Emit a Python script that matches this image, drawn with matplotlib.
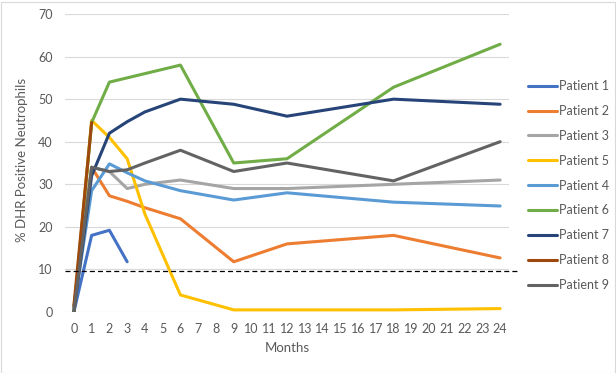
import numpy as np
import matplotlib
matplotlib.use("Agg")
import matplotlib.pyplot as plt
from matplotlib.patches import Rectangle
import matplotlib.transforms as mtransforms

plt.rcParams['font.family'] = ['Lato', 'DejaVu Sans']

categories = list(range(0, 25))
months = [0, 1, 2, 3, 4, 6, 9, 12, 18, 24]

patient_1 = [0, 18, 19.2, 11.8, None, None, None, None, None, None]
patient_2 = [1, 34, 27.3, 26, 24.5, 21.9, 11.8, 16, 18, 12.7]
patient_3 = [1, 34, 33, 29, 30, 31, 29, 29, 30, 31]
patient_5 = [0, 45, 41, 36, 23, 4, 0.5, 0.5, 0.5, 0.8]
patient_4 = [1, 28.5, 34.8, 32.7, 30.8, 28.5, 26.3, 28, 25.8, 24.9]
patient_6 = [0, 44.5, 54, 55, 56, 58, 35, 36, 52.8, 62.9]
patient_7 = [0, 32, 42, 44.7, 47, 50, 48.8, 46, 50, 48.8]
patient_8 = [1.5, 44.5, None, None, None, None, None, None, None, None]
patient_9 = [0, 34, 33, 33.4, 35, 38, 33, 35, 30.8, 40]

series_names = ["Patient 1", "Patient 2", "Patient 3", "Patient 5", "Patient 4",
                "Patient 6", "Patient 7", "Patient 8", "Patient 9"]
series_values = [patient_1, patient_2, patient_3, patient_5, patient_4,
                 patient_6, patient_7, patient_8, patient_9]
colors = ["#4472C4", "#ED7D31", "#A5A5A5", "#FFC000", "#5B9BD5",
          "#70AD47", "#264478", "#9E480E", "#636363"]

threshold = 9.7
y_ticks = list(range(0, 80, 10))

W, H = 616, 373
fig = plt.figure(figsize=(W / 100, H / 100), dpi=100)
ax = fig.add_axes([65 / W, 1 - 312 / H, (509 - 65) / W, (312 - 14) / H])

for name, vals, c in zip(series_names, series_values, colors):
    xs = [m for m, v in zip(months, vals) if v is not None]
    ys = [v for v in vals if v is not None]
    ax.plot(xs, ys, color=c, lw=2.2, label=name, solid_capstyle='round',
            solid_joinstyle='round', zorder=3)

trans = mtransforms.blended_transform_factory(ax.transAxes, ax.transData)
ax.plot([0, (517 - 65) / (509 - 65)], [threshold, threshold], transform=trans,
        color='black', lw=0.9, ls=(0, (4, 2.5)), clip_on=False, zorder=4)

ax.set_xlim(-0.5, 24.5)
ax.set_ylim(0, 70)
ax.set_xticks(categories)
ax.set_xticklabels([str(c) for c in categories])
ax.set_yticks(y_ticks)
ax.grid(axis='y', color='#D9D9D9', lw=0.8, zorder=0)
ax.set_axisbelow(True)
for s in ['top', 'right', 'left', 'bottom']:
    ax.spines[s].set_visible(False)
ax.tick_params(axis='both', length=0, labelsize=9, colors='#595959')
ax.tick_params(axis='x', pad=8)
ax.tick_params(axis='y', pad=9)

ax.set_xlabel("Months", fontsize=9.5, color='#595959')
ax.xaxis.set_label_coords(0.5, (312 - 348) / 298)
ax.xaxis.label.set_va('center')
ax.set_ylabel("% DHR Positive Neutrophils", fontsize=9.5, color='#595959')
ax.yaxis.set_label_coords((22 - 65) / 444, 0.51)
ax.yaxis.label.set_va('center')

leg = ax.legend(loc='center left', bbox_to_anchor=(528 / W, 1 - 185.5 / H),
                bbox_transform=fig.transFigure, frameon=False, fontsize=9,
                handlelength=2.3, handletextpad=0.15, labelspacing=1.03,
                borderpad=0, borderaxespad=0)
for t in leg.get_texts():
    t.set_color('#595959')

fig.patches.append(Rectangle((0.5 / W, 0.5 / H), 1 - 2 / W, 1 - 2 / H,
                             transform=fig.transFigure, fill=False,
                             edgecolor='#D9D9D9', lw=0.8))

fig.savefig("out.png", dpi=100)
